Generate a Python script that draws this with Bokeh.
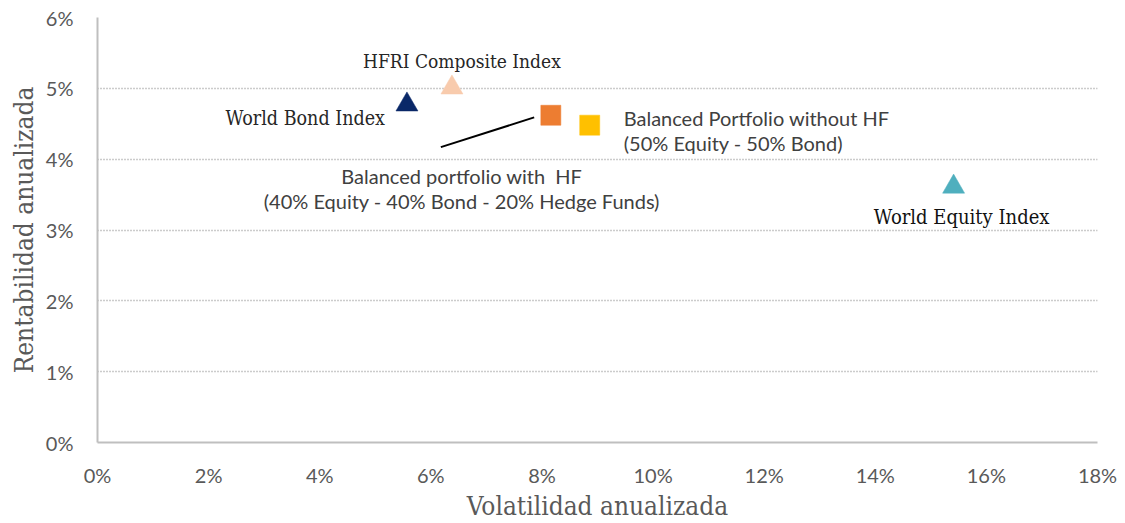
from bokeh.plotting import figure
from bokeh.models import ColumnDataSource, Range1d, FixedTicker, PrintfTickFormatter
from bokeh.core.properties import value
from bokeh.embed import file_html
from bokeh.resources import INLINE

# ---- data (annualised volatility %, annualised return %) ----
names = [
    "World Bond Index",
    "HFRI Composite Index",
    "Balanced portfolio with\u00a0 HF\n(40% Equity - 40% Bond - 20% Hedge Funds)",
    "Balanced Portfolio without HF\n(50% Equity - 50% Bond)",
    "World Equity Index",
]
volatility = [5.57, 6.38, 8.16, 8.86, 15.41]
returns = [4.77, 5.01, 4.62, 4.48, 3.61]

# leader line for the "with HF" portfolio label
leader_x = [6.18, 7.86]
leader_y = [4.17, 4.59]

x_ticks = [0, 2, 4, 6, 8, 10, 12, 14, 16, 18]
y_ticks = [0, 1, 2, 3, 4, 5, 6]
x_title = "Volatilidad anualizada"
y_title = "Rentabilidad anualizada"

# ---- styles ----
markers = ["triangle", "triangle", "square", "square", "triangle"]
colors = ["#0A2868", "#F8CBAD", "#ED7D31", "#FFC000", "#4FAFBE"]
sizes = [22, 22, 20, 20, 22]
fonts = ["DejaVu Serif Condensed", "DejaVu Serif Condensed", "Lato", "Lato", "DejaVu Serif Condensed"]
font_sizes = ["19.5px", "19px", "20px", "20px", "20px"]
text_colors = ["#262626", "#262626", "#404040", "#404040", "#111111"]
aligns = ["right", "center", "center", "left", "center"]
x_offs = [-22, 10, -89, 34, 8]
y_offs = [14, -27, 73, 5, 30]

p = figure(width=1125, height=523, output_backend="svg", toolbar_location=None,
           x_range=Range1d(0, 18), y_range=Range1d(0, 6),
           min_border_left=97, min_border_right=28, min_border_top=17, min_border_bottom=80)
p.outline_line_color = None
p.background_fill_color = "white"

src = ColumnDataSource(dict(x=volatility, y=returns, marker=markers, color=colors, size=sizes))
p.scatter("x", "y", source=src, marker="marker", size="size",
          fill_color="color", line_color="color", line_width=0.5)

p.line(leader_x, leader_y, line_color="black", line_width=2)

for i, name in enumerate(names):
    p.text([volatility[i]], [returns[i]], text=[name],
           x_offset=x_offs[i], y_offset=y_offs[i],
           text_align=aligns[i], text_baseline="middle",
           text_font=value(fonts[i]), text_font_size=font_sizes[i],
           text_color=text_colors[i], text_line_height=1.05)

# axes
for ax in (p.xaxis[0], p.yaxis[0]):
    ax.axis_line_color = "#BFBFBF"
    ax.axis_line_width = 2
    ax.major_tick_line_color = None
    ax.minor_tick_line_color = None
    ax.major_tick_out = 0
    ax.major_label_text_font = "Lato"
    ax.major_label_text_font_size = "20px"
    ax.major_label_text_color = "#595959"
    ax.axis_label_text_font = "DejaVu Serif Condensed"
    ax.axis_label_text_font_style = "normal"
    ax.axis_label_text_font_size = "26px"
    ax.axis_label_text_color = "#595959"

p.xaxis.ticker = FixedTicker(ticks=x_ticks)
p.yaxis.ticker = FixedTicker(ticks=y_ticks)
p.xaxis.formatter = PrintfTickFormatter(format="%d%%")
p.yaxis.formatter = PrintfTickFormatter(format="%d%%")
p.xaxis.axis_label = x_title
p.yaxis.axis_label = y_title
p.xaxis.major_label_standoff = 20
p.yaxis.major_label_standoff = 24
p.xaxis.axis_label_standoff = 1
p.yaxis.axis_label_standoff = 4

p.xgrid.visible = False
p.ygrid.grid_line_color = "#999999"
p.ygrid.grid_line_dash = "1 2"
p.ygrid.grid_line_width = 1.5

open("out.html", "w").write(file_html(p, INLINE))
